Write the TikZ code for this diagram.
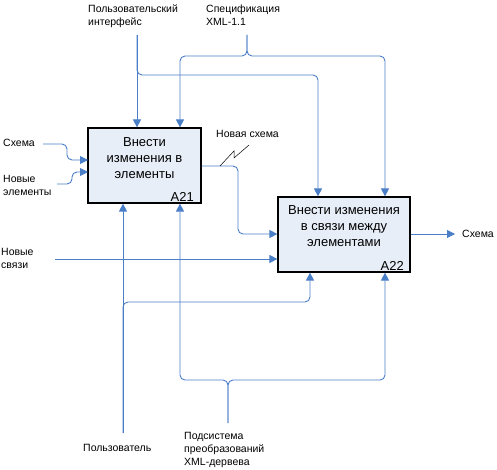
\documentclass[tikz,border=0pt]{standalone}
\usepackage{fontspec}
\setmainfont{Liberation Sans}
\usetikzlibrary{arrows.meta}
\definecolor{flow}{RGB}{74,126,199}
\definecolor{boxfill}{RGB}{232,238,248}
\tikzset{
  fbox/.style={draw=black, line width=1.2pt, fill=boxfill, minimum width=113pt, minimum height=75pt, inner sep=0pt},
  boxtext/.style={align=center, font=\fontsize{13}{16}\selectfont, inner sep=0pt},
  boxid/.style={font=\fontsize{13}{15}\selectfont, inner sep=0pt},
  lbl/.style={align=left, font=\fontsize{10.5}{13}\selectfont, inner sep=0pt},
  flowline/.style={draw=flow, line width=0.9pt, rounded corners=5pt},
  arr/.style={flowline, -{Triangle[length=8pt,width=8pt]}},
  squig/.style={draw=black, line width=0.5pt}
}
\begin{document}
\begin{tikzpicture}[x=1pt,y=-1pt]
\useasboundingbox (0,0) rectangle (497,470);
% boxes
\node[fbox] (a21) at (144.5,165.5) {};
\node[boxtext] (a21t) at (144.5,158) {Внести\\изменения в\\элементы};
\node[boxid, anchor=south east] (a21id) at (194,202) {A21};
\node[fbox, minimum width=132pt] (a22) at (344,234.5) {};
\node[boxtext] (a22t) at (344,226) {Внести изменения\\в связи между\\элементами};
\node[boxid, anchor=south east] (a22id) at (404,271) {A22};
% labels
\node[lbl, anchor=north west] (ui) at (88,5) {Пользовательский\\интерфейс};
\node[lbl, anchor=north west] (spec) at (206,5) {Спецификация\\XML-1.1};
\node[lbl, anchor=west] (sch) at (3,143) {Схема};
\node[lbl, anchor=west] (newel) at (3,185) {Новые\\элементы};
\node[lbl, anchor=west] (newlk) at (1,258) {Новые\\связи};
\node[lbl, anchor=west] (outs) at (462,234) {Схема};
\node[lbl, anchor=west] (nsch) at (216,134) {Новая схема};
\node[lbl, anchor=north west] (user) at (83,444) {Пользователь};
\node[lbl, anchor=north west] (sub) at (184,432) {Подсистема\\преобразований\\XML-дервева};
% connector ends
\coordinate (uis) at (137,35);
\coordinate (specs) at (247,35);
\coordinate (schs) at (43,144);
\coordinate (newels) at (57,184);
\coordinate (newlks) at (55,259);
\coordinate (users) at (123,433);
\coordinate (subs) at (228,423);
\coordinate (oute) at (455,234);
% controls
\draw[arr] (uis) -- (uis |- a21.north);
\draw[arr] (uis) -- (137,75) -- (318,75) -- (318,0 |- a22.north);
\draw[arr] (specs) -- (247,56) -- (180,56) -- (180,0 |- a21.north);
\draw[arr] (specs) -- (247,56) -- (385,56) -- (385,0 |- a22.north);
% inputs
\draw[arr] (schs) -- (67,144) -- (67,160) -- (88,160);
\draw[arr] (newels) -- (72,184) -- (72,172) -- (88,172);
\draw[arr] (a21.east |- 0,166) -- (238,166) -- (238,234) -- (a22.west |- 0,234);
\draw[arr] (newlks) -- (a22.west |- newlks);
% output
\draw[arr] (a22.east |- oute) -- (oute);
% mechanisms
\draw[arr] (users) -- (users |- a21.south);
\draw[arr] (users) -- (123,302) -- (310,302) -- (310,0 |- a22.south);
\draw[arr] (subs) -- (228,380) -- (180,380) -- (180,0 |- a21.south);
\draw[arr] (subs) -- (228,380) -- (385,380) -- (385,0 |- a22.south);
% squiggle
\draw[squig] (220,166) -- (234,151) -- (234,158) -- (249,145);
\end{tikzpicture}
\end{document}
